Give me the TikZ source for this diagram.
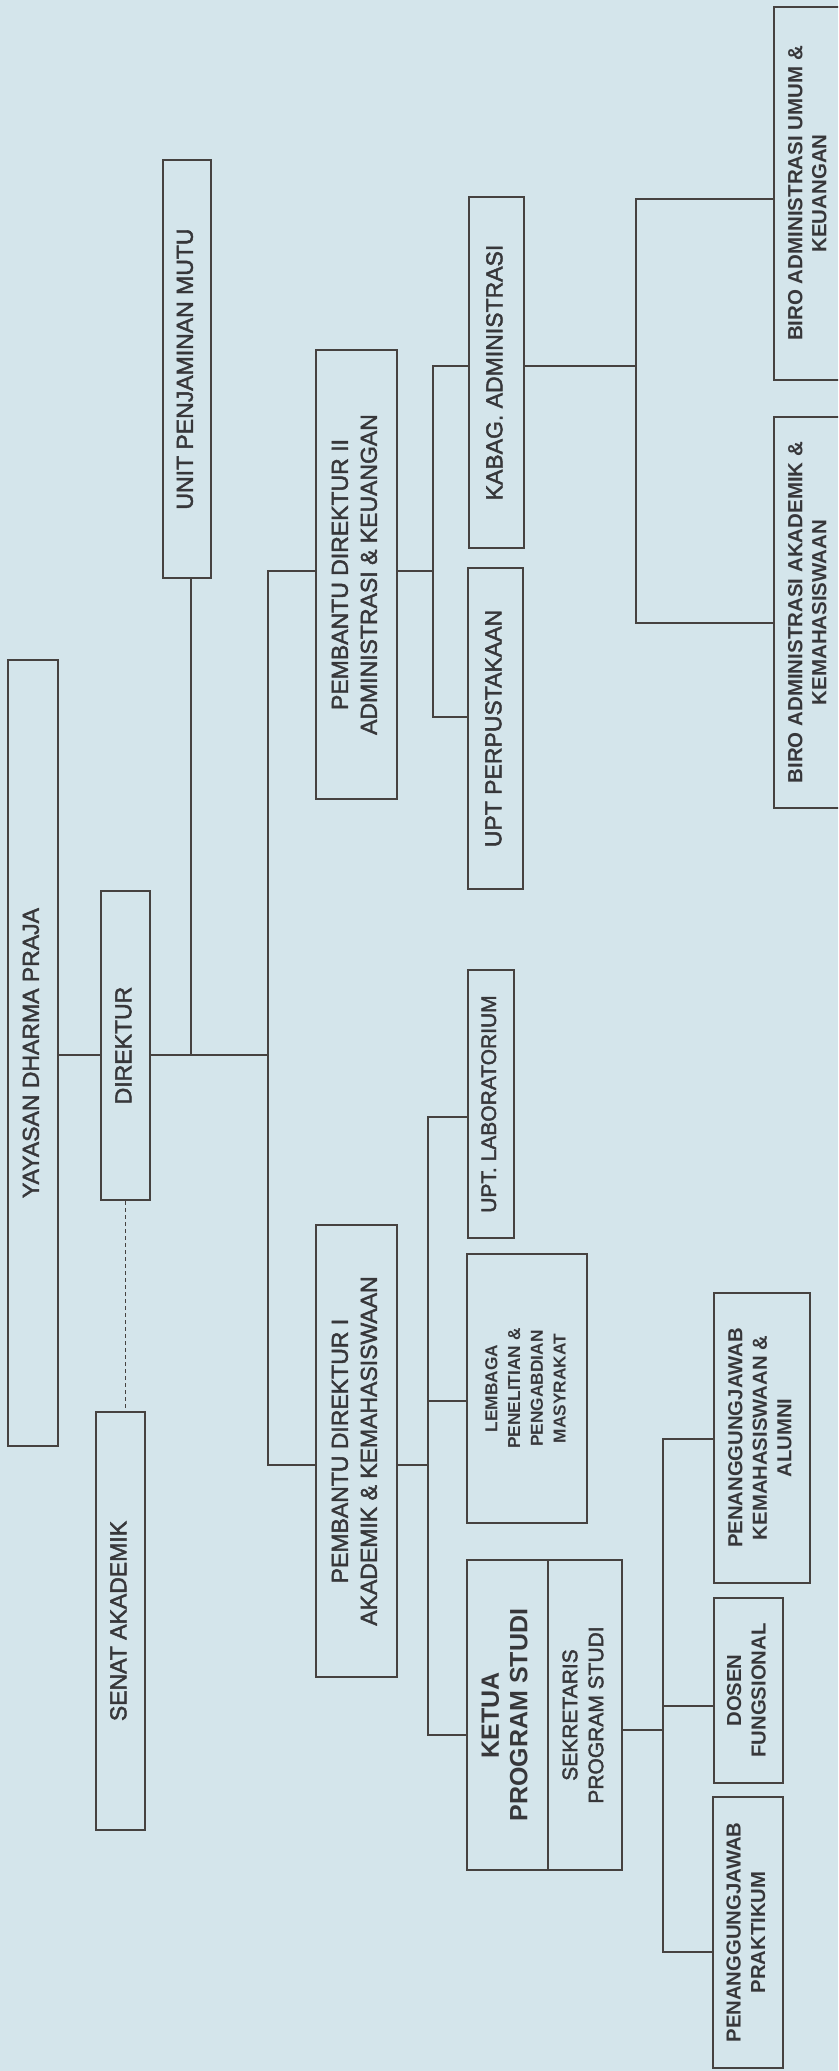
\documentclass[tikz,border=0pt]{standalone}
\usepackage{fontspec}
\setmainfont{Liberation Sans}
\newfontfamily\hvy{Liberation Sans}[FakeBold=2]
\newfontfamily\bld{Liberation Sans Bold}
\usepackage{graphicx}
\definecolor{bgc}{RGB}{212,229,235}
\definecolor{linec}{RGB}{70,66,64}
\definecolor{txtc}{RGB}{55,55,58}
\newcommand{\vtxt}[2]{\rotatebox{90}{#1\begin{tabular}{@{}c@{}}#2\end{tabular}}}
\newcommand{\szBig}{\hvy\fontsize{23}{29}\selectfont}
\newcommand{\szLab}{\hvy\fontsize{21}{25}\selectfont}
\newcommand{\szBiro}{\bld\fontsize{20.5}{24}\selectfont}
\newcommand{\szLem}{\bld\fontsize{17.3}{22.7}\selectfont}
\newcommand{\szSm}{\bld\fontsize{20.3}{24.5}\selectfont}
\newcommand{\szSek}{\hvy\fontsize{21}{26}\selectfont}
\newcommand{\szKetua}{\bld\fontsize{25}{28.5}\selectfont}
\tikzset{
  box/.style={draw=linec, line width=2.4pt, inner sep=0pt, text=txtc},
  conn/.style={draw=linec, line width=1.4pt},
  dashconn/.style={draw=linec, line width=1.2pt, dash pattern=on 4pt off 3pt},
}
\begin{document}
\begin{tikzpicture}[x=1pt,y=-1pt]
\useasboundingbox (0,0) rectangle (838,2071);
\fill[bgc] (0,0) rectangle (838,2071);
\begin{scope}
\clip (0,0) rectangle (838,2071);
% boxes
\node[box, minimum width=50pt, minimum height=786pt] (yayasan) at (33,1053) {\vtxt{\szBig}{YAYASAN DHARMA PRAJA}};
\node[box, minimum width=49pt, minimum height=309pt] (direktur) at (125.5,1045.5) {\vtxt{\szBig}{DIREKTUR}};
\node[box, minimum width=49pt, minimum height=418pt] (senat) at (120.5,1621) {\vtxt{\szBig}{SENAT AKADEMIK}};
\node[box, minimum width=48pt, minimum height=418pt] (upm) at (187,369) {\vtxt{\szBig}{UNIT PENJAMINAN MUTU}};
\node[box, minimum width=81pt, minimum height=449pt] (pd2) at (356.5,574.5) {\vtxt{\szBig}{PEMBANTU DIREKTUR II\\ ADMINISTRASI \& KEUANGAN}};
\node[box, minimum width=81pt, minimum height=452pt] (pd1) at (356.5,1451) {\vtxt{\szBig}{PEMBANTU DIREKTUR I\\ AKADEMIK \& KEMAHASISWAAN}};
\node[box, minimum width=55pt, minimum height=351pt] (kabag) at (496.5,372.5) {\vtxt{\szBig}{KABAG. ADMINISTRASI}};
\node[box, minimum width=55pt, minimum height=321pt] (uptperp) at (495.5,728.5) {\vtxt{\szBig}{UPT PERPUSTAKAAN}};
\node[box, minimum width=46pt, minimum height=268pt] (uptlab) at (491,1104) {\vtxt{\szLab}{UPT. LABORATORIUM}};
\node[box, minimum width=120pt, minimum height=269pt] (lembaga) at (527,1388.5) {\vtxt{\szLem}{LEMBAGA\\ PENELITIAN \&\\ PENGABDIAN\\ MASYRAKAT}};
\node[box, minimum width=81pt, minimum height=310pt] (ketua) at (507.5,1715) {\vtxt{\szKetua}{KETUA\\ PROGRAM STUDI}};
\node[box, minimum width=74pt, minimum height=310pt] (sekr) at (585,1715) {\vtxt{\szSek}{SEKRETARIS\\ PROGRAM STUDI}};
\node[box, minimum width=71pt, minimum height=373pt] (biroumum) at (809.5,193.5) {\vtxt{\szBiro}{BIRO ADMINISTRASI UMUM \&\\ KEUANGAN}};
\node[box, minimum width=71pt, minimum height=391pt] (biroak) at (809.5,612.5) {\vtxt{\szBiro}{BIRO ADMINISTRASI AKADEMIK \&\\ KEMAHASISWAAN}};
\node[box, minimum width=96pt, minimum height=290pt] (pjkem) at (762,1438) {\vtxt{\szSm}{PENANGGUNGJAWAB\\ KEMAHASISWAAN \&\\ ALUMNI}};
\node[box, minimum width=69pt, minimum height=185pt] (dosen) at (748.5,1690.5) {\vtxt{\szSm}{DOSEN\\ FUNGSIONAL}};
\node[box, minimum width=70pt, minimum height=271pt] (pjprak) at (748,1932.5) {\vtxt{\szSm}{PENANGGUNGJAWAB\\ PRAKTIKUM}};
% junction coordinates
\coordinate (j) at (191,1055);
\coordinate (s1) at (268,571);
\coordinate (s2) at (268,1465);
\coordinate (r2a) at (433,366);
\coordinate (r2m) at (433,571);
\coordinate (r2b) at (433,717);
\coordinate (b0) at (636,366);
\coordinate (b1) at (636,199);
\coordinate (b2) at (636,623);
\coordinate (r1top) at (428,1117);
\coordinate (r1lem) at (428,1401);
\coordinate (r1m) at (428,1465);
\coordinate (r1bot) at (428,1735);
\coordinate (k0) at (663,1730);
\coordinate (k1) at (663,1439);
\coordinate (k2) at (663,1706);
\coordinate (k3) at (663,1952);
% connectors
\draw[conn] (yayasan.east |- j) -- (direktur.west |- j);
\draw[conn] (direktur.east |- j) -- (s1 |- j);
\draw[conn] (upm.south -| j) -- (j);
\draw[conn] (pd2.west |- s1) -- (s1) -- (s2) -- (pd1.west |- s2);
\draw[conn] (pd2.east |- r2m) -- (r2m);
\draw[conn] (kabag.west |- r2a) -- (r2a) -- (r2b) -- (uptperp.west |- r2b);
\draw[conn] (kabag.east |- b0) -- (b0);
\draw[conn] (biroumum.west |- b1) -- (b1) -- (b2) -- (biroak.west |- b2);
\draw[conn] (uptlab.west |- r1top) -- (r1top) -- (r1bot) -- (ketua.west |- r1bot);
\draw[conn] (lembaga.west |- r1lem) -- (r1lem);
\draw[conn] (pd1.east |- r1m) -- (r1m);
\draw[conn] (sekr.east |- k0) -- (k0);
\draw[conn] (pjkem.west |- k1) -- (k1) -- (k3) -- (pjprak.west |- k3);
\draw[conn] (dosen.west |- k2) -- (k2);
\draw[dashconn] (direktur.south) -- (direktur.south |- senat.north);
\end{scope}
\end{tikzpicture}
\end{document}
